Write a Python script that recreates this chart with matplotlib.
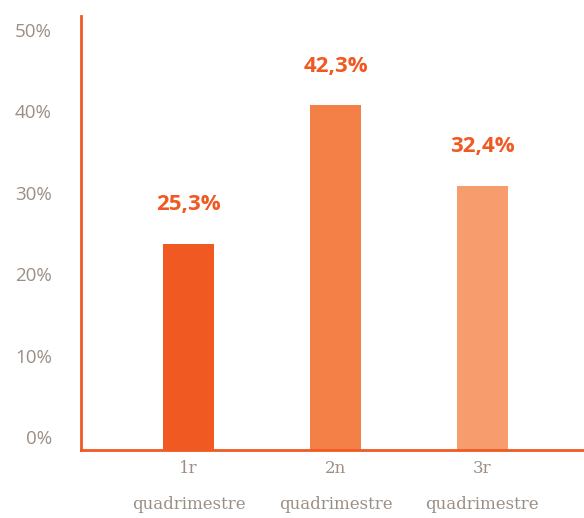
import matplotlib.pyplot as plt
from matplotlib.transforms import ScaledTranslation

# data
periods = ['1r\nquadrimestre', '2n\nquadrimestre', '3r\nquadrimestre']
values = [25.3, 42.3, 32.4]
value_labels = ['25,3%', '42,3%', '32,4%']
ytick_vals = [0, 10, 20, 30, 40, 50]
ytick_labels = ['0%', '10%', '20%', '30%', '40%', '50%']

bar_colors = ['#f05a22', '#f47f47', '#f69c6d']
accent = '#f05a22'
grey = '#9b8f85'

fig = plt.figure(figsize=(5.84, 5.18), dpi=100)
ax = fig.add_axes([81/584, 68/518, 503/584, 434/518])

x = range(len(values))
ax.bar(x, values, width=0.347, color=bar_colors)

for i, (v, lab) in enumerate(zip(values, value_labels)):
    ax.annotate(lab, (i, v), xytext=(0, 28), textcoords='offset points',
                ha='center', va='center', color=accent, fontsize=16,
                fontweight='bold', family='Open Sans')

ax.set_xlim(-0.731, 2.691)
ax.set_ylim(0, 53.2)

ax.set_yticks(ytick_vals)
ax.set_yticklabels(ytick_labels, color=grey, fontsize=13.5, family='Open Sans')
ax.tick_params(axis='y', length=0, pad=21)
# labels sit a little above their values, as in the original
shift = ScaledTranslation(0, 9/72, fig.dpi_scale_trans)
for t in ax.get_yticklabels():
    t.set_transform(t.get_transform() + shift)

ax.set_xticks(list(x))
ax.set_xticklabels(periods, color=grey, fontsize=12, family='DejaVu Serif',
                   linespacing=2.5)
ax.tick_params(axis='x', length=0, pad=7)

for s in ['top', 'right']:
    ax.spines[s].set_visible(False)
for s in ['left', 'bottom']:
    ax.spines[s].set_color(accent)
    ax.spines[s].set_linewidth(2)

fig.savefig('out.png', dpi=100)
